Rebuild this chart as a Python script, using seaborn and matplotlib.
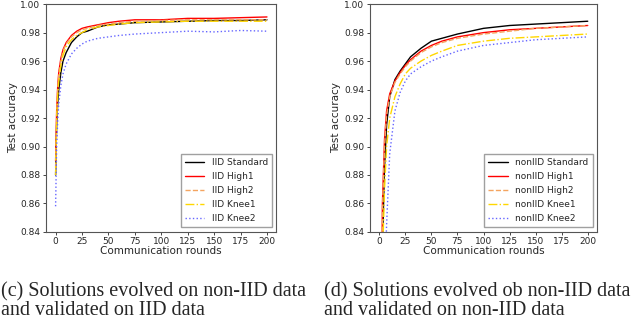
import pandas as pd
import seaborn as sns
import matplotlib.pyplot as plt

rounds_iid = [0, 1, 2, 3, 5, 7, 10, 15, 20, 25, 30, 40, 50, 60, 75, 100, 125, 150, 175, 200]
iid_standard = [0.880, 0.915, 0.930, 0.940, 0.952, 0.960, 0.966, 0.973, 0.977, 0.980, 0.981, 0.984, 0.9855, 0.986, 0.987, 0.9875, 0.988, 0.9885, 0.9885, 0.989]
iid_high1 = [0.890, 0.925, 0.942, 0.952, 0.962, 0.968, 0.973, 0.978, 0.981, 0.983, 0.984, 0.9855, 0.987, 0.988, 0.989, 0.989, 0.990, 0.990, 0.9905, 0.991]
iid_high2 = [0.885, 0.922, 0.940, 0.950, 0.960, 0.967, 0.972, 0.977, 0.980, 0.982, 0.983, 0.985, 0.986, 0.987, 0.988, 0.9885, 0.989, 0.989, 0.989, 0.989]
iid_knee1 = [0.880, 0.918, 0.936, 0.946, 0.957, 0.964, 0.970, 0.975, 0.978, 0.980, 0.982, 0.984, 0.985, 0.986, 0.987, 0.9875, 0.988, 0.988, 0.988, 0.988]
iid_knee2 = [0.858, 0.900, 0.918, 0.930, 0.943, 0.951, 0.958, 0.965, 0.969, 0.972, 0.974, 0.976, 0.977, 0.978, 0.979, 0.980, 0.981, 0.9805, 0.9815, 0.981]

rounds_non = [0, 3, 5, 7, 10, 15, 20, 25, 30, 40, 50, 60, 75, 100, 125, 150, 175, 200]
non_standard = [0.60, 0.830, 0.885, 0.915, 0.935, 0.947, 0.953, 0.958, 0.963, 0.969, 0.974, 0.976, 0.979, 0.983, 0.985, 0.986, 0.987, 0.988]
non_high1 = [0.60, 0.860, 0.905, 0.925, 0.937, 0.946, 0.952, 0.957, 0.961, 0.967, 0.971, 0.974, 0.977, 0.980, 0.982, 0.983, 0.984, 0.985]
non_high2 = [0.60, 0.855, 0.900, 0.922, 0.935, 0.945, 0.951, 0.956, 0.960, 0.966, 0.970, 0.973, 0.976, 0.979, 0.981, 0.983, 0.984, 0.985]
non_knee1 = [0.55, 0.820, 0.870, 0.900, 0.920, 0.935, 0.944, 0.951, 0.955, 0.960, 0.964, 0.967, 0.971, 0.974, 0.976, 0.977, 0.978, 0.979]
non_knee2 = [0.45, 0.720, 0.800, 0.845, 0.895, 0.925, 0.938, 0.946, 0.951, 0.956, 0.960, 0.963, 0.967, 0.971, 0.973, 0.975, 0.976, 0.977]

names = ["Standard", "High1", "High2", "Knee1", "Knee2"]
colors = ["black", "red", "#f4a460", "gold", "#6666ff"]
styles = ["-", "-", "--", "-.", ":"]

sns.set_theme(style="ticks")
plt.rcParams["font.family"] = ["DejaVu Sans"]

fig = plt.figure(figsize=(6.4, 3.19), dpi=100)
ax1 = fig.add_axes([0.072, 0.273, 0.36, 0.714])
ax2 = fig.add_axes([0.578, 0.273, 0.355, 0.714])

panels = [
    (ax1, "IID", rounds_iid, [iid_standard, iid_high1, iid_high2, iid_knee1, iid_knee2]),
    (ax2, "nonIID", rounds_non, [non_standard, non_high1, non_high2, non_knee1, non_knee2]),
]

for ax, prefix, rounds, series in panels:
    for name, vals, c, ls in zip(names, series, colors, styles):
        sns.lineplot(x=rounds, y=vals, ax=ax, color=c, linestyle=ls, linewidth=1.0,
                     label=prefix + " " + name)
    ax.set_xlim(-9, 209)
    ax.set_ylim(0.84, 1.00)
    ax.set_xticks([0, 25, 50, 75, 100, 125, 150, 175, 200])
    ax.set_yticks([0.84, 0.86, 0.88, 0.90, 0.92, 0.94, 0.96, 0.98, 1.00])
    ax.set_yticklabels(["%.2f" % v for v in ax.get_yticks()])
    ax.tick_params(labelsize=6.5, length=2.5, width=0.6, pad=1.5)
    ax.set_xlabel("Communication rounds", fontsize=7.5, labelpad=0)
    ax.set_ylabel("Test accuracy", fontsize=7.5, labelpad=2)
    for s in ax.spines.values():
        s.set_linewidth(0.8)
        s.set_color("#555555")
    ax.legend(loc="lower right", fontsize=6.5, handlelength=2.2, frameon=True,
              fancybox=False, edgecolor="#888888", borderpad=0.45, labelspacing=0.57)

fig.text(0.002, 0.056, "(c) Solutions evolved on non-IID data\nand validated on IID data",
         family="Liberation Serif", fontsize=14.5, va="center", linespacing=0.92)
fig.text(0.506, 0.056, "(d) Solutions evolved ob non-IID data\nand validated on non-IID data",
         family="Liberation Serif", fontsize=14.5, va="center", linespacing=0.92)

fig.savefig("out.png", dpi=100)
